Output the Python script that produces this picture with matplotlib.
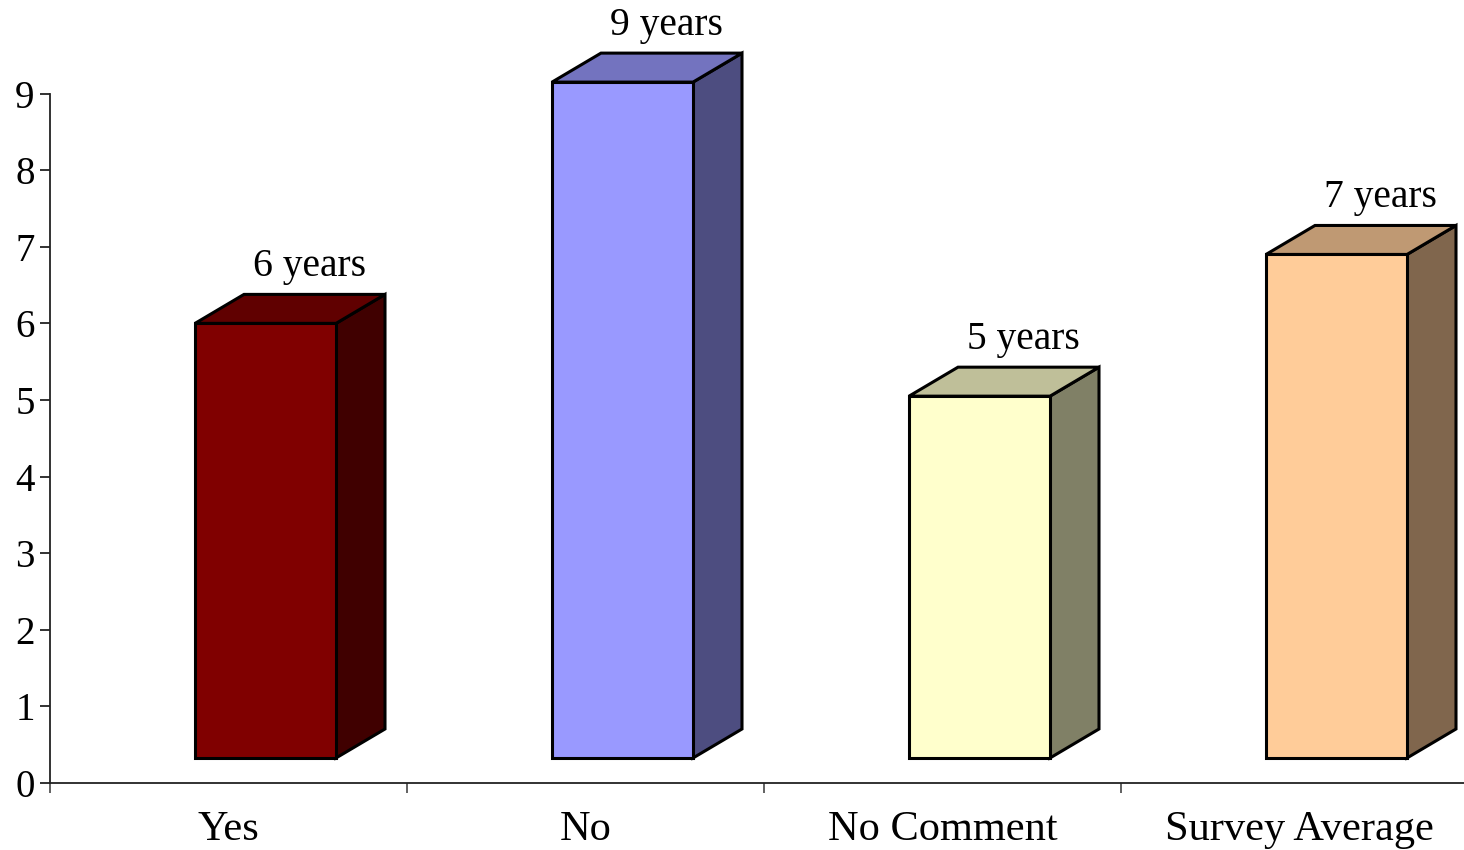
import matplotlib
matplotlib.use('Agg')
import matplotlib.pyplot as plt
from matplotlib.colors import to_rgb

# ---- data ----
categories = ['Yes', 'No', 'No Comment', 'Survey Average']
values = [6.0, 9.15, 5.05, 6.9]
value_labels = ['6 years', '9 years', '5 years', '7 years']
yticks = [0, 1, 2, 3, 4, 5, 6, 7, 8, 9]
front_colors = ['#800000', '#9999FF', '#FFFFCC', '#FFCC99']

plt.rcParams['font.family'] = ['Liberation Serif', 'DejaVu Serif']

W, H = 1464, 850
x0px, y0px = 50, 783          # pixel of data origin
cat_px, unit_px = 357.0, 76.6  # pixels per category / per y unit

fig = plt.figure(figsize=(W / 100, H / 100), dpi=100)
ax = fig.add_axes([0, 0, 1, 1])
ax.set_xlim(-x0px / cat_px, (W - x0px) / cat_px)
ax.set_ylim(-(H - y0px) / unit_px, y0px / unit_px)

# 3D geometry (in data units)
bar_off = 145 / cat_px
bar_w = 141 / cat_px
dx = 49 / cat_px
dy = 29 / unit_px
base = 25 / unit_px


def shade(c, f):
    return tuple(v * f for v in to_rgb(c))


for i, (v, c, lab) in enumerate(zip(values, front_colors, value_labels)):
    left = i + bar_off
    right = left + bar_w
    # side face
    ax.fill([right, right + dx, right + dx, right],
            [base, base + dy, v + dy, v],
            facecolor=shade(c, 0.5), edgecolor='black', lw=2.2,
            joinstyle='miter', zorder=2)
    # top face
    ax.fill([left, right, right + dx, left + dx],
            [v, v, v + dy, v + dy],
            facecolor=shade(c, 0.75), edgecolor='black', lw=2.2,
            joinstyle='miter', zorder=2)
    # front face
    ax.bar(left, v - base, bottom=base, width=bar_w, align='edge',
           color=c, edgecolor='black', lw=2.2, zorder=3)
    ax.text(left + bar_w / 2 + 44 / cat_px, v + dy + 18 / unit_px, lab,
            ha='center', va='baseline', fontsize=28.5, color='black')

# axes styling
for s in ['top', 'right']:
    ax.spines[s].set_visible(False)
ax.spines['left'].set_position(('data', 0))
ax.spines['bottom'].set_position(('data', 0))
ax.spines['left'].set_bounds(0, 9)
ax.spines['bottom'].set_bounds(0, (W - x0px) / cat_px)
for s in ['left', 'bottom']:
    ax.spines[s].set_linewidth(1.3)
    ax.spines[s].set_color('#222222')

ax.set_yticks(yticks)
ax.set_yticklabels([str(t) for t in yticks])
ax.tick_params(axis='y', direction='out', length=7, width=1.3,
               color='#222222', labelsize=28, pad=4)

ax.set_xticks(range(len(categories)))
ax.set_xticklabels([''] * len(categories))
ax.set_xticks([i + 0.5 for i in range(len(categories))], minor=True)
ax.set_xticklabels(categories, minor=True)
ax.tick_params(axis='x', which='major', direction='out', length=7,
               width=1.3, color='#555555')
ax.tick_params(axis='x', which='minor', length=0, labelsize=30.5, pad=20)

fig.savefig('out.png', dpi=100)
